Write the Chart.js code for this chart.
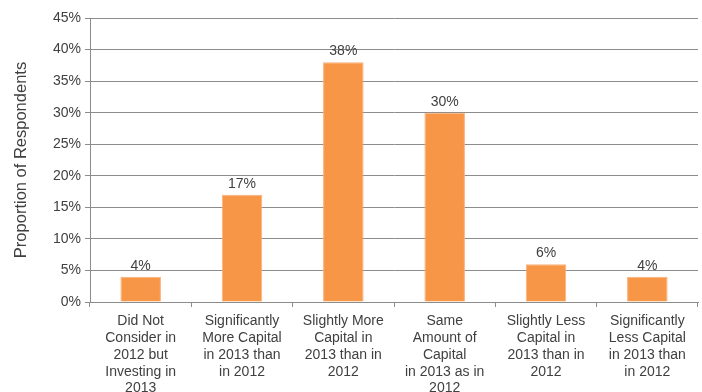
<!DOCTYPE html>
<html>
<head>
<meta charset="utf-8">
<script src="https://cdn.jsdelivr.net/npm/chart.js@4/dist/chart.umd.min.js"></script>
<style>
  html, body { margin: 0; padding: 0; background: #fff; overflow: hidden; }
  #wrap { width: 702px; height: 392px; position: relative; }
</style>
</head>
<body>
<div id="wrap"><canvas id="c" width="702" height="392"></canvas></div>
<script>
const categories = [
  ["Did Not", "Consider in", "2012 but", "Investing in", "2013"],
  ["Significantly", "More Capital", "in 2013 than", "in 2012"],
  ["Slightly More", "Capital in", "2013 than in", "2012"],
  ["Same", "Amount of", "Capital", "in 2013 as in", "2012"],
  ["Slightly Less", "Capital in", "2013 than in", "2012"],
  ["Significantly", "Less Capital", "in 2013 than", "in 2012"]
];
const shares = [4, 17, 38, 30, 6, 4];
const yTicks = [0, 5, 10, 15, 20, 25, 30, 35, 40, 45];

const FONT = "'Liberation Sans', Arial, sans-serif";
const TEXT = '#404040';
const GRID = '#8c8c8c';

// Writes each bar's percentage just above its top
const valueLabels = {
  id: 'valueLabels',
  afterDatasetsDraw(chart) {
    const ctx = chart.ctx;
    const meta = chart.getDatasetMeta(0);
    ctx.save();
    ctx.font = '14px ' + FONT;
    ctx.fillStyle = TEXT;
    ctx.textAlign = 'center';
    ctx.textBaseline = 'bottom';
    meta.data.forEach((bar, i) => {
      ctx.fillText(shares[i] + '%', bar.x, bar.y - 4);
    });
    ctx.restore();
  }
};

new Chart(document.getElementById('c'), {
  type: 'bar',
  data: {
    labels: categories,
    datasets: [{
      data: shares,
      backgroundColor: '#F79646',
      borderColor: '#FAB07A',
      borderWidth: 1,
      barPercentage: 0.4,
      categoryPercentage: 1.0
    }]
  },
  options: {
    responsive: false,
    animation: false,
    devicePixelRatio: 1,
    layout: { padding: { top: 18, right: 4, left: 12, bottom: 0 } },
    plugins: { legend: { display: false }, tooltip: { enabled: false } },
    scales: {
      x: {
        grid: { drawOnChartArea: false, drawTicks: true, tickLength: 5, color: GRID, offset: true },
        border: { color: GRID },
        ticks: {
          color: TEXT,
          font: { family: FONT, size: 14, lineHeight: 1.2 },
          maxRotation: 0,
          autoSkip: false,
          padding: 6
        },
        afterFit(scale) { scale.height = 90; }
      },
      y: {
        min: 0,
        max: 45,
        afterBuildTicks(scale) { scale.ticks = yTicks.map(v => ({ value: v })); },
        grid: { color: GRID, drawTicks: true, tickLength: 5 },
        border: { color: GRID },
        ticks: {
          color: TEXT,
          font: { family: FONT, size: 14 },
          padding: 4,
          callback: v => v + '%'
        },
        title: {
          display: true,
          text: 'Proportion of Respondents',
          color: TEXT,
          font: { family: FONT, size: 16.5 },
          padding: { top: 0, bottom: 8 }
        },
        afterFit(scale) { scale.width = 78; }
      }
    }
  },
  plugins: [valueLabels]
});
</script>
</body>
</html>
